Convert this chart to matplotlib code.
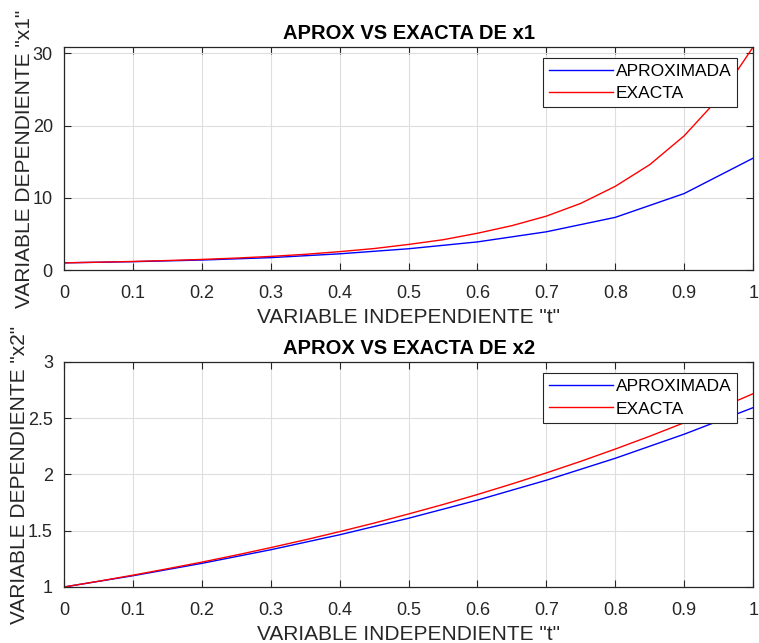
import numpy as np
import matplotlib.pyplot as plt

# approximate solution (step h = 0.1)
t_aprox = [0, 0.1, 0.2, 0.3, 0.4, 0.5, 0.6, 0.7, 0.8, 0.9, 1.0]
x1_aprox = [1.00, 1.16, 1.39, 1.72, 2.25, 2.95, 3.90, 5.30, 7.30, 10.6, 15.5]
x2_aprox = [1.000, 1.100, 1.210, 1.331, 1.464, 1.611, 1.772, 1.949, 2.144, 2.358, 2.594]

# exact solution (finer sampling)
t_exact = [0, 0.05, 0.1, 0.15, 0.2, 0.25, 0.3, 0.35, 0.4, 0.45, 0.5,
           0.55, 0.6, 0.65, 0.7, 0.75, 0.8, 0.85, 0.9, 0.95, 1.0]
x1_exact = [1.00, 1.09, 1.19, 1.32, 1.47, 1.66, 1.89, 2.18, 2.55, 2.98, 3.55,
            4.20, 5.10, 6.15, 7.47, 9.24, 11.6, 14.6, 18.6, 23.8, 30.9]
x2_exact = [1.000, 1.051, 1.105, 1.162, 1.221, 1.284, 1.350, 1.419, 1.492, 1.568, 1.649,
            1.733, 1.822, 1.916, 2.014, 2.117, 2.226, 2.340, 2.460, 2.586, 2.718]

xticks = [0, 0.1, 0.2, 0.3, 0.4, 0.5, 0.6, 0.7, 0.8, 0.9, 1]
xticklabels = ['0', '0.1', '0.2', '0.3', '0.4', '0.5', '0.6', '0.7', '0.8', '0.9', '1']

plt.rcParams['font.family'] = ['Liberation Sans', 'DejaVu Sans']

fig = plt.figure(figsize=(7.59, 6.43), dpi=100)
ax1 = fig.add_axes([0.0843, 0.580, 0.908, 0.347])
ax2 = fig.add_axes([0.0843, 0.0871, 0.908, 0.350])

panels = [
    (ax1, x1_aprox, x1_exact, 'x1', (0, 30.9), [0, 10, 20, 30], ['0', '10', '20', '30']),
    (ax2, x2_aprox, x2_exact, 'x2', (1, 3), [1, 1.5, 2, 2.5, 3], ['1', '1.5', '2', '2.5', '3']),
]

for ax, ap, ex, name, ylim, yt, ytl in panels:
    ax.plot(t_aprox, ap, color='b', lw=1.0, label='APROXIMADA')
    ax.plot(t_exact, ex, color='r', lw=1.0, label='EXACTA')
    ax.set_xlim(0, 1)
    ax.set_ylim(*ylim)
    ax.set_xticks(xticks)
    ax.set_xticklabels(xticklabels)
    ax.set_yticks(yt)
    ax.set_yticklabels(ytl)
    ax.grid(True, color='#dedede', lw=0.8)
    ax.set_axisbelow(True)
    ax.tick_params(direction='in', top=True, right=True, length=5,
                   width=0.8, color='#262626', labelsize=13, labelcolor='#262626')
    ax.tick_params(axis='x', pad=11)
    ax.tick_params(axis='y', pad=8)
    for s in ax.spines.values():
        s.set_color('#262626')
        s.set_linewidth(0.9)
    ax.set_title('APROX VS EXACTA DE ' + name, fontsize=14.5, fontweight='bold', pad=6)
    ax.set_xlabel('VARIABLE INDEPENDIENTE "t"', fontsize=15, color='#262626', labelpad=4)
    ax.set_ylabel('VARIABLE DEPENDIENTE "' + name + '"', fontsize=15, color='#262626', labelpad=-1)
    leg = ax.legend(loc='upper right', bbox_to_anchor=(0.977, 0.95), fontsize=12.5,
                    handlelength=3.7, handletextpad=0.15, borderpad=0.35, labelspacing=0.4,
                    fancybox=False, framealpha=1, borderaxespad=0)
    leg.get_frame().set_edgecolor('#262626')
    leg.get_frame().set_linewidth(0.8)

fig.savefig('out.png', dpi=100)
